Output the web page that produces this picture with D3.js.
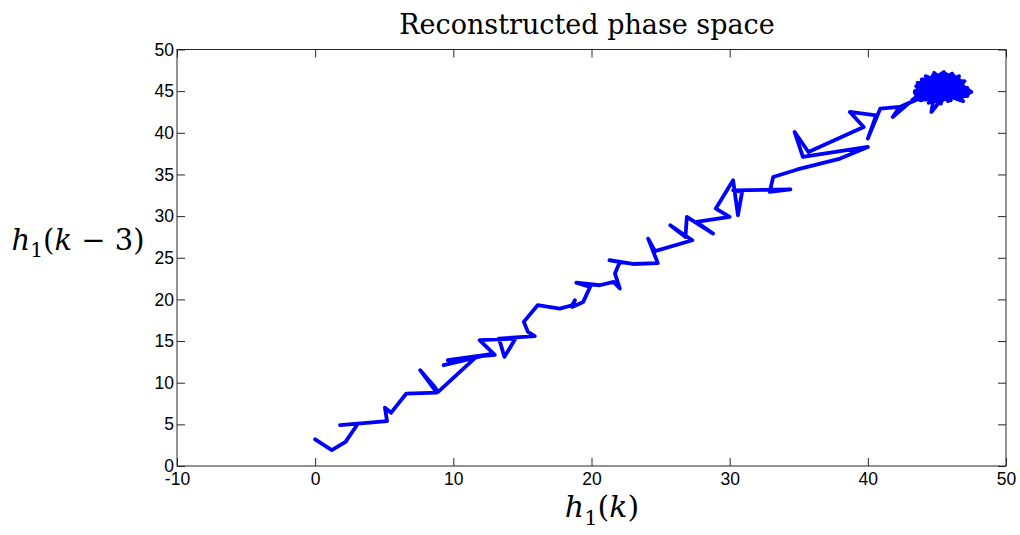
<!DOCTYPE html>
<html><head><meta charset="utf-8">
<script src="https://cdn.jsdelivr.net/npm/d3@7"></script>
<style>body{margin:0;background:#fff}svg{display:block}</style>
</head><body>
<svg id="c" width="1020" height="535"></svg>
<script>
// Data: trajectory h1(k) vs h1(k-3)
const h1k = [0,1.2,2.2,3.1,1.8,5.2,5.05,5.5,6.6,8.8,7.6,8.6,8.9,11.6,9.3,12.6,9.6,11.45,13.0,11.9,14.5,13.7,13.3,15.9,15.4,15.1,16.1,17.7,18.6,18.8,18.6,19.4,19.9,18.9,20.6,21.6,22.05,21.7,22.05,21.3,23.0,24.8,24.1,24.6,27.3,25.7,26.8,26.9,28.8,27.6,30.0,29.0,30.25,30.6,30.9,30.25,34.4,32.9,33.15,34.9,38.0,40.0,35.3,34.7,35.7,39.7,38.7,40.6,40.0,40.9,42.3,41.8,
  43.0,42.2,44.0,43.2,44.6,43.4,45.7,44.2,46.5,43.9,46.8,44.8,45.3,43.5,47.2,44.4,46.0,43.8,47.3,45.0,44.6,46.2,43.9,46.9,45.2,44.1,47.5,45.6,44.3,46.4,45.0,43.4,46.6,45.8,44.7,46.9,44.0,45.9,45.3,46.3,44.9,
  44.2,46.7,43.8,45.9,44.5,47.0,43.6,45.4,46.1,44.0,46.8,45.1,43.7,46.5,44.6,45.7,47.1,44.3,45.5,46.0,43.9,46.6,44.8,45.6,43.5,46.9,44.4,45.9,45.0,46.2,44.1,47.2,45.2,43.8,46.4,44.9,45.6,44.5,46.0,45.3];
const h1k3 = [3.2,1.9,2.9,5.1,4.9,5.4,7.0,6.4,8.7,8.8,11.5,9.6,8.9,13.0,12.1,13.4,12.7,13.1,13.35,15.1,15.3,13.1,15.3,15.6,16.1,17.3,19.3,18.9,19.3,19.9,19.1,19.7,21.5,22.0,21.7,22.1,21.3,23.1,24.5,24.7,24.25,24.35,27.3,25.8,27.1,28.9,27.5,29.9,27.9,29.3,29.9,30.9,34.3,30.1,32.9,33.1,33.2,32.9,34.7,35.6,36.9,38.3,37.1,40.1,37.7,40.7,42.5,42.1,39.3,42.9,43.1,41.9,
  43.6,43.0,44.3,43.9,45.8,45.0,46.8,44.0,46.2,46.4,44.2,47.2,43.5,45.6,45.4,43.6,47.0,44.6,44.7,46.5,42.5,45.8,46.1,46.0,43.6,45.2,44.9,47.1,44.1,44.3,46.0,44.8,46.8,43.8,46.9,43.8,45.5,45.0,44.4,46.4,45.1,
  46.8,45.2,43.9,46.9,44.0,46.2,46.0,43.9,47.1,45.0,44.5,46.9,44.3,45.7,46.3,44.0,45.1,45.9,47.3,43.9,45.8,46.4,43.8,46.2,44.5,45.6,46.6,44.6,43.7,46.9,44.7,44.4,46.4,45.3,45.0,44.2,45.7,45.4,44.8,45.3];
const xTicks = [-10,0,10,20,30,40,50];
const yTicks = [0,5,10,15,20,25,30,35,40,45,50];
const titleText = "Reconstructed phase space";

const svg = d3.select("#c");
const L = 177, R = 1006, T = 49.5, B = 466;
const x = d3.scaleLinear().domain([-10,50]).range([L,R]);
const y = d3.scaleLinear().domain([0,50]).range([B,T]);
const axisCol = "#262626";
const tickLen = 8;

// box
svg.append("rect").attr("x",L).attr("y",T).attr("width",R-L).attr("height",B-T)
  .attr("fill","#fff").attr("stroke",axisCol).attr("stroke-width",1);

function styleAxis(g){
  g.select(".domain").remove();
  g.selectAll("line").attr("stroke",axisCol);
  g.selectAll("text").attr("fill","#000").style("font-family","'Liberation Sans', Arial, sans-serif").style("font-size","17.5px");
}
const fmt = d => String(d);
svg.append("g").attr("transform",`translate(0,${B})`)
  .call(d3.axisBottom(x).tickValues(xTicks).tickSize(-tickLen).tickPadding(7).tickFormat(fmt))
  .call(styleAxis);
svg.append("g").attr("transform",`translate(0,${T})`)
  .call(d3.axisTop(x).tickValues(xTicks).tickSize(-tickLen).tickFormat(""))
  .call(styleAxis);
svg.append("g").attr("transform",`translate(${L},0)`)
  .call(d3.axisLeft(y).tickValues(yTicks).tickSize(-tickLen).tickPadding(3).tickFormat(fmt))
  .call(styleAxis);
svg.append("g").attr("transform",`translate(${R},0)`)
  .call(d3.axisRight(y).tickValues(yTicks).tickSize(-tickLen).tickFormat(""))
  .call(styleAxis);

// trajectory
const pts = h1k.map((v,i)=>[v,h1k3[i]]);
svg.append("path").datum(pts)
  .attr("d", d3.line().x(d=>x(d[0])).y(d=>y(d[1])))
  .attr("fill","none").attr("stroke","#0000ff").attr("stroke-width",3.8)
  .attr("stroke-linejoin","round").attr("stroke-linecap","round");

// title
svg.append("text").attr("x",587).attr("y",34).attr("text-anchor","middle")
  .style("font-family","'DejaVu Serif', serif").style("font-size","27px").attr("fill","#000")
  .text(titleText);

// math labels
function mathLabel(xp, yp, parts, size){
  const t = svg.append("text").attr("x",xp).attr("y",yp).attr("text-anchor","middle")
    .style("font-family","'DejaVu Serif', serif").style("font-size",size+"px").attr("fill","#000");
  parts.forEach(p=>{
    const s = t.append("tspan").text(p.t);
    if(p.i) s.style("font-style","italic");
    if(p.sub) s.attr("dy", size*0.25).style("font-size",(size*0.7)+"px");
    if(p.up) s.attr("dy", -size*0.25);
  });
  return t;
}
mathLabel(602, 517, [{t:"h",i:1},{t:"1",sub:1},{t:"(",up:1},{t:"k",i:1},{t:")"}], 30);
mathLabel(78, 250, [{t:"h",i:1},{t:"1",sub:1},{t:"(",up:1},{t:"k",i:1},{t:" − 3)"}], 29);
</script>
</body></html>
